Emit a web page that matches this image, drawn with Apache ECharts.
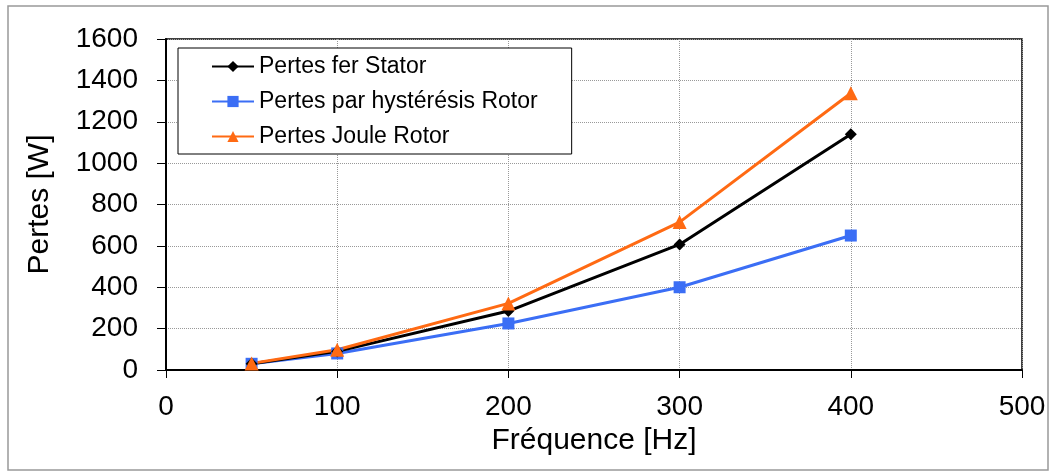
<!DOCTYPE html>
<html>
<head>
<meta charset="utf-8">
<script src="https://cdn.jsdelivr.net/npm/echarts@6/dist/echarts.min.js"></script>
<style>
html, body { margin: 0; padding: 0; background: #fff; }
#main { width: 1056px; height: 473px; }
</style>
</head>
<body>
<div id="main"></div>
<script>
// frequencies (Hz)
var freq = [50, 100, 200, 300, 400];
// losses (W)
var statorIron = [30, 90, 285, 607, 1140];
var rotorHyst = [30, 80, 225, 400, 650];
var rotorJoule = [32, 98, 322, 715, 1338];
var seriesNames = ['Pertes fer Stator', 'Pertes par hystérésis Rotor', 'Pertes Joule Rotor'];

function pairs(xs, ys) {
	var out = [];
	for (var i = 0; i < xs.length; i++) out.push([xs[i], ys[i]]);
	return out;
}

var font = 'Liberation Sans, Arial, sans-serif';
var myChart = echarts.init(document.getElementById('main'));

var option = {
	animation: false,
	textStyle: { fontFamily: font },
	graphic: [{
		type: 'rect',
		shape: { x: 8, y: 6, width: 1040, height: 464 },
		style: { fill: 'none', stroke: '#999', lineWidth: 1.5 },
		silent: true
	}],
	grid: {
		left: 166, top: 39, right: 34, bottom: 103,
		show: true, borderColor: '#000', borderWidth: 1.5
	},
	legend: {
		orient: 'vertical',
		left: 178, top: 48,
		padding: [7, 34, 6, 33],
		itemGap: 12,
		itemWidth: 42, itemHeight: 14,
		borderColor: '#000', borderWidth: 1,
		backgroundColor: '#fff',
		textStyle: { fontFamily: font, fontSize: 23, color: '#000' },
		data: seriesNames
	},
	xAxis: {
		type: 'value', min: 0, max: 500, interval: 100,
		name: 'Fréquence [Hz]', nameLocation: 'middle', nameGap: 53,
		nameTextStyle: { fontFamily: font, fontSize: 30, color: '#000' },
		axisLine: { onZero: false, lineStyle: { color: '#000', width: 2 } },
		axisTick: { show: true, length: 8, lineStyle: { color: '#000', width: 1 } },
		axisLabel: { fontFamily: font, fontSize: 28, color: '#000', margin: 23 },
		splitLine: { show: true, lineStyle: { color: '#999', type: 'dotted', width: 1 } }
	},
	yAxis: {
		type: 'value', min: 0, max: 1600, interval: 200,
		name: 'Pertes [W]', nameLocation: 'middle', nameGap: 111, nameRotate: 90,
		nameTextStyle: { fontFamily: font, fontSize: 30, color: '#000' },
		axisLine: { show: true, lineStyle: { color: '#000', width: 2 } },
		axisTick: { show: true, length: 9, lineStyle: { color: '#000', width: 1 } },
		axisLabel: {
			fontFamily: font, fontSize: 28, color: '#000', margin: 28,
			formatter: function (v) { return String(v); }
		},
		splitLine: { show: true, lineStyle: { color: '#999', type: 'dotted', width: 1 } }
	},
	series: [{
		name: seriesNames[1], type: 'line', data: pairs(freq, rotorHyst),
		symbol: 'rect', symbolSize: 12,
		lineStyle: { color: '#3b6ef5', width: 3 },
		itemStyle: { color: '#3b6ef5' }
	}, {
		name: seriesNames[0], type: 'line', data: pairs(freq, statorIron),
		symbol: 'diamond', symbolSize: 12,
		lineStyle: { color: '#000', width: 3 },
		itemStyle: { color: '#000' }
	}, {
		name: seriesNames[2], type: 'line', data: pairs(freq, rotorJoule),
		symbol: 'triangle', symbolSize: 14,
		lineStyle: { color: '#ff6a13', width: 3 },
		itemStyle: { color: '#ff6a13' }
	}]
};
myChart.setOption(option);
</script>
</body>
</html>
